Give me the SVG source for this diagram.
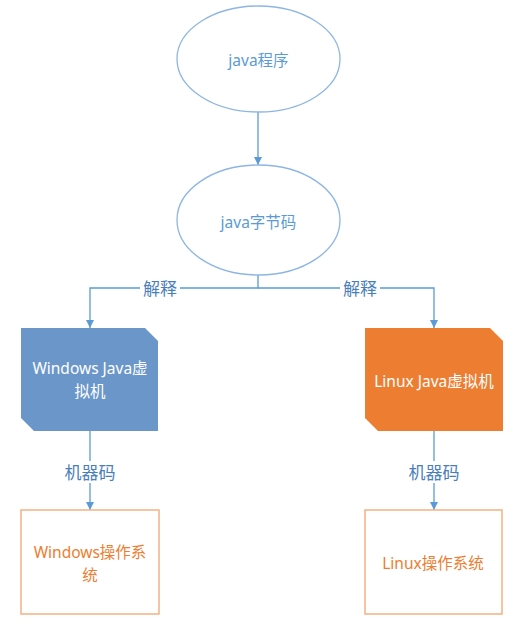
<svg xmlns="http://www.w3.org/2000/svg" width="520" height="636" viewBox="0 0 520 636">
<defs>
<style>
text{font-family:"Noto Sans","Noto Sans CJK SC",sans-serif;font-size:15.5px;text-anchor:middle;dominant-baseline:central}
.ell{fill:#fff;stroke:#8DB6E2;stroke-width:1.3}
.et{fill:#5B9BD5}
.con{fill:none;stroke:#5B9BD5;stroke-width:1.3}
.lbl{fill:#4A7EBB;font-size:17px}
.lb{fill:#fff}
.os{fill:#fff;stroke:#F4B183;stroke-width:1.5}
.ot{fill:#ED7D31}
</style>
<marker id="arr" markerWidth="10" markerHeight="10" refX="8" refY="5" orient="auto" markerUnits="userSpaceOnUse">
<path d="M0,1 L8,5 L0,9 Z" fill="#5B9BD5"/>
</marker>
</defs>
<rect width="520" height="636" fill="#fff"/>
<g id="connectors">
<path class="con" d="M258,112 V165" marker-end="url(#arr)"/>
<path class="con" d="M258,275 V288 H90 V328" marker-end="url(#arr)"/>
<path class="con" d="M258,288 H434 V328" marker-end="url(#arr)"/>
<path class="con" d="M90,431 V510" marker-end="url(#arr)"/>
<path class="con" d="M434,431 V510" marker-end="url(#arr)"/>
<rect x="140" y="277" width="40" height="22" class="lb"/>
<text x="160" y="288" class="lbl">解释</text>
<rect x="340" y="277" width="40" height="22" class="lb"/>
<text x="360" y="288" class="lbl">解释</text>
<rect x="63" y="461" width="54" height="22" class="lb"/>
<text x="90" y="472" class="lbl">机器码</text>
<rect x="407" y="461" width="54" height="22" class="lb"/>
<text x="434" y="472" class="lbl">机器码</text>
</g>
<g id="java-program">
<ellipse class="ell" cx="258.5" cy="59" rx="81.5" ry="53"/>
<text x="258.5" y="60" class="et">java程序</text>
</g>
<g id="java-bytecode">
<ellipse class="ell" cx="258.5" cy="220" rx="81.5" ry="55"/>
<text x="258.5" y="222" class="et">java字节码</text>
</g>
<g id="windows-jvm">
<path d="M21,328 H145 L158,341 V431 H34 L21,418 Z" fill="#6A96C9"/>
<text x="90" y="368" class="lb">Windows Java虚</text>
<text x="90" y="391" class="lb">拟机</text>
</g>
<g id="linux-jvm">
<path d="M365,328 H490 L503,341 V431 H378 L365,418 Z" fill="#ED7D31"/>
<text x="434" y="381" class="lb">Linux Java虚拟机</text>
</g>
<g id="windows-os">
<rect class="os" x="21" y="510" width="138" height="104"/>
<text x="90" y="552" class="ot">Windows操作系</text>
<text x="90" y="575" class="ot">统</text>
</g>
<g id="linux-os">
<rect class="os" x="365" y="510" width="137" height="104"/>
<text x="433" y="563" class="ot">Linux操作系统</text>
</g>
</svg>
